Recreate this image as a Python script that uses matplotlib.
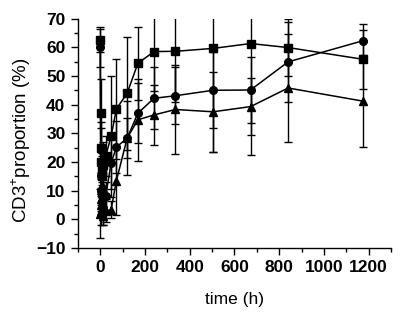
import matplotlib
matplotlib.use("Agg")
import matplotlib.pyplot as plt
from matplotlib.ticker import MultipleLocator

plt.rcParams['font.family'] = ['Liberation Sans', 'DejaVu Sans']
plt.rcParams['mathtext.fontset'] = 'custom'
plt.rcParams['mathtext.rm'] = 'Liberation Sans'

time_h = [0, 1, 2, 4, 6, 8, 12, 24, 48, 72, 120, 168, 240, 336, 504, 672, 840, 1176]

sq_mean = [62.5, 37, 25, 20, 17, 15, 19, 22, 28.9, 38.5, 44.0, 54.4, 58.5, 58.6, 59.6, 61.3, 59.9, 55.8]
sq_err = [4, 12, 9, 6, 5, 5, 8, 7, 21, 17.5, 19.7, 12.8, 13.7, 17.8, 36, 39, 10, 10.2]

ci_mean = [60.0, 24, 15, 10, 8, 6, 4, 8, 19.6, 25.2, 28.3, 37.0, 42.2, 43.1, 45.0, 45.1, 54.9, 62.3]
ci_err = [7, 8, 6, 5, 5, 4, 6, 5, 9, 9, 13, 10.5, 10.8, 10, 13.2, 11.6, 13.9, 5.8]

tr_mean = [2, 3, 5, 7, 10, 12, 1, 3, 3.3, 13.5, 28.3, 34.7, 36.4, 38.3, 37.5, 39.3, 45.8, 41.2]
tr_err = [8.5, 5, 4, 4, 5, 6, 3, 4, 3, 12, 7, 14.2, 10.5, 15.5, 14, 10, 19, 16]

fig = plt.figure(figsize=(4.03, 3.19), dpi=100)
ax = fig.add_axes([0.1935, 0.2226, 0.7765, 0.7191])

kw = dict(color='black', ecolor='black', elinewidth=1.0, capsize=3, capthick=1.0,
          linewidth=1.1, markersize=5.5)
ax.errorbar(time_h, sq_mean, yerr=sq_err, marker='s', **kw)
ax.errorbar(time_h, ci_mean, yerr=ci_err, marker='o', **kw)
ax.errorbar(time_h, tr_mean, yerr=tr_err, marker='^', **kw)

ax.set_xlim(-100, 1300)
ax.set_ylim(-10, 70)
ax.xaxis.set_major_locator(MultipleLocator(200))
ax.xaxis.set_minor_locator(MultipleLocator(100))
ax.yaxis.set_major_locator(MultipleLocator(10))
ax.yaxis.set_minor_locator(MultipleLocator(5))
ax.set_xticks([0, 200, 400, 600, 800, 1000, 1200])

for s in ['top', 'right']:
    ax.spines[s].set_visible(False)
for s in ['left', 'bottom']:
    ax.spines[s].set_linewidth(1.0)

ax.tick_params(which='major', direction='out', length=5, width=1.0, labelsize=12.5, pad=4)
ax.tick_params(which='minor', direction='out', length=3, width=1.0)
for lab in ax.get_xticklabels() + ax.get_yticklabels():
    lab.set_fontweight('bold')

ax.set_xlabel('time (h)', fontsize=12.5, labelpad=12)
ax.set_ylabel('CD3$^{+}$proportion (%)', fontsize=13.5)
ax.yaxis.set_label_coords(-0.145, 0.47)

fig.savefig('out.png', dpi=100)
